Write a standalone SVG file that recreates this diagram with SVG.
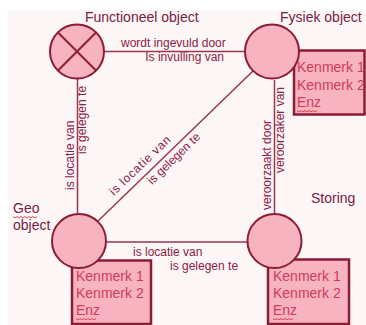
<svg xmlns="http://www.w3.org/2000/svg" width="366" height="325" viewBox="0 0 366 325">
<style>
.node{fill:#f7b4c0;stroke:#8b1c34;stroke-width:2}
.box{fill:#f7b4c0;stroke:#8b1c34;stroke-width:2.5}
.conn{stroke:#9c3550;stroke-width:1.5;fill:none}
.title{font-family:"Liberation Sans",Arial,sans-serif;font-size:14px;fill:#7a2045}
.lbl{font-family:"Liberation Sans",Arial,sans-serif;font-size:12px;fill:#8b2045}
.kn{font-family:"Liberation Sans",Arial,sans-serif;font-size:14px;fill:#cf3a5c}
.wave{fill:none;stroke:#e0202a;stroke-width:0.8}
</style>
<rect x="8" y="10" width="358" height="315" fill="#fcf6f6"/>
<g id="connectors">
<line class="conn" x1="104" y1="51.5" x2="245" y2="51.5"/>
<line class="conn" x1="77.5" y1="78" x2="77.5" y2="215"/>
<line class="conn" x1="274.5" y1="80" x2="274.5" y2="214"/>
<line class="conn" x1="106" y1="242" x2="247" y2="242"/>
<line class="conn" x1="253" y1="71" x2="98" y2="221"/>
<text class="lbl" x="121" y="47">wordt ingevuld door</text>
<text class="lbl" x="224" y="61" text-anchor="end">Is invulling van</text>
<text class="lbl" transform="translate(74,190) rotate(-90)">is locatie van</text>
<text class="lbl" transform="translate(86,154) rotate(-90)">is gelegen te</text>
<text class="lbl" transform="translate(271,210) rotate(-90)">veroorzaakt door</text>
<text class="lbl" transform="translate(284,173) rotate(-90)">veroorzaker van</text>
<text class="lbl" transform="translate(114,196) rotate(-44)" letter-spacing="0.8">is locatie van</text>
<text class="lbl" transform="translate(152,185) rotate(-44)">is gelegen te</text>
<text class="lbl" x="133" y="256">is locatie van</text>
<text class="lbl" x="170" y="270">is gelegen te</text>
</g>
<g id="functioneel-object">
<circle class="node" cx="77" cy="51.5" r="27"/>
<line stroke="#8b1c34" stroke-width="2" x1="58" y1="32.5" x2="96" y2="70.5"/>
<line stroke="#8b1c34" stroke-width="2" x1="96" y1="32.5" x2="58" y2="70.5"/>
<text class="title" x="85" y="22">Functioneel object</text>
</g>
<g id="fysiek-object">
<rect class="box" x="294" y="50.5" width="70.5" height="64"/>
<circle class="node" cx="272" cy="51.5" r="27"/>
<text class="title" x="280" y="22">Fysiek object</text>
<text class="kn" x="297" y="72">Kenmerk 1</text>
<text class="kn" x="297" y="89.5">Kenmerk 2</text>
<text class="kn" x="297" y="107">Enz</text>
<path class="wave" d="M297 110.5 l2 1.5 l2 -1.5 l2 1.5 l2 -1.5 l2 1.5 l2 -1.5 l2 1.5 l2 -1.5 l2 1.5 l2 -1.5"/>
</g>
<g id="geo-object">
<rect class="box" x="72" y="260.5" width="79" height="63.5"/>
<circle class="node" cx="79" cy="241" r="27"/>
<text class="title" x="13" y="213">Geo</text>
<path class="wave" d="M13 216.5 l2 1.5 l2 -1.5 l2 1.5 l2 -1.5 l2 1.5 l2 -1.5 l2 1.5 l2 -1.5 l2 1.5 l2 -1.5 l2 1.5 l2 -1.5"/>
<text class="title" x="13" y="230">object</text>
<text class="kn" x="76" y="281">Kenmerk 1</text>
<text class="kn" x="76" y="298">Kenmerk 2</text>
<text class="kn" x="76" y="315">Enz</text>
<path class="wave" d="M76 318.5 l2 1.5 l2 -1.5 l2 1.5 l2 -1.5 l2 1.5 l2 -1.5 l2 1.5 l2 -1.5 l2 1.5 l2 -1.5"/>
</g>
<g id="storing">
<rect class="box" x="268" y="259.5" width="81" height="64.5"/>
<circle class="node" cx="274.5" cy="241" r="27"/>
<text class="title" x="311" y="203">Storing</text>
<text class="kn" x="273" y="281">Kenmerk 1</text>
<text class="kn" x="273" y="298">Kenmerk 2</text>
<text class="kn" x="273" y="315">Enz</text>
<path class="wave" d="M273 318.5 l2 1.5 l2 -1.5 l2 1.5 l2 -1.5 l2 1.5 l2 -1.5 l2 1.5 l2 -1.5 l2 1.5 l2 -1.5"/>
</g>
</svg>
